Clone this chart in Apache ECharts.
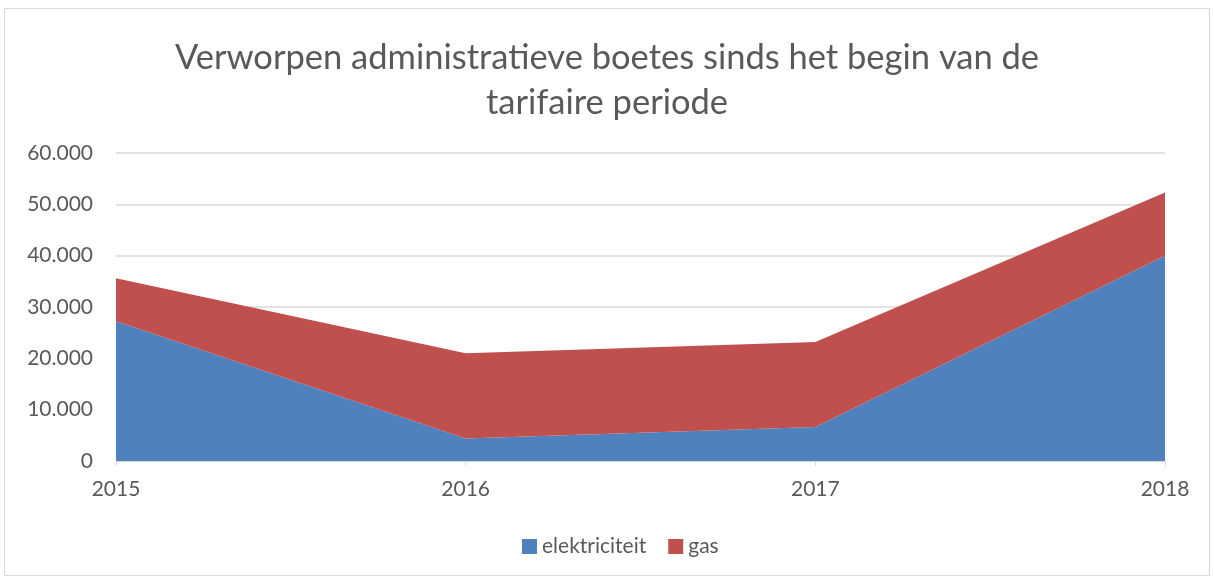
<!DOCTYPE html>
<html>
<head>
<meta charset="utf-8">
<script src="https://cdn.jsdelivr.net/npm/echarts@6/dist/echarts.min.js"></script>
<style>
html, body { margin: 0; padding: 0; background: #fff; }
#chart { width: 1214px; height: 579px; }
</style>
</head>
<body>
<div id="chart"></div>
<script>
var years = ['2015', '2016', '2017', '2018'];
var elektriciteit = [27200, 4400, 6600, 40000];
var gas = [8400, 16600, 16600, 12300];

var myChart = echarts.init(document.getElementById('chart'));
myChart.setOption({
  backgroundColor: '#fff',
  textStyle: { fontFamily: 'Lato' },
  graphic: [{
    type: 'rect',
    shape: { x: 4.5, y: 8.5, width: 1205, height: 567 },
    style: { fill: 'none', stroke: '#d9d9d9', lineWidth: 1 },
    silent: true
  }],
  title: {
    text: 'Verworpen administratieve boetes sinds het begin van de\ntarifaire periode',
    left: 'center',
    top: 30,
    textStyle: {
      fontFamily: 'Lato',
      fontSize: 34.5,
      fontWeight: 'normal',
      color: '#595959',
      lineHeight: 45
    }
  },
  legend: {
    data: ['elektriciteit', 'gas'],
    bottom: 17,
    left: 517,
    itemWidth: 15,
    itemHeight: 15,
    itemGap: 22,
    icon: 'rect',
    textStyle: { fontSize: 21, color: '#595959', fontFamily: 'Lato' }
  },
  grid: { left: 116, right: 49, top: 153, bottom: 118 },
  xAxis: {
    type: 'category',
    boundaryGap: false,
    data: years,
    axisLine: { lineStyle: { color: '#d9d9d9' } },
    axisTick: { show: true, length: 5, lineStyle: { color: '#d9d9d9' } },
    axisLabel: { color: '#595959', fontSize: 21, margin: 18, fontFamily: 'Lato' }
  },
  yAxis: {
    type: 'value',
    min: 0,
    max: 60000,
    interval: 10000,
    axisLine: { show: false },
    axisTick: { show: false },
    splitLine: { lineStyle: { color: '#d9d9d9', width: 1.5 } },
    axisLabel: {
      color: '#595959',
      fontSize: 21,
      margin: 23,
      fontFamily: 'Lato',
      formatter: function (v) {
        return v === 0 ? '0' : (v / 1000).toFixed(0) + '.000';
      }
    }
  },
  series: [
    {
      name: 'elektriciteit',
      type: 'line',
      stack: 'total',
      data: elektriciteit,
      symbol: 'none',
      itemStyle: { color: '#4f81bd' },
      lineStyle: { width: 0 },
      areaStyle: { color: '#4f81bd', opacity: 1 }
    },
    {
      name: 'gas',
      type: 'line',
      stack: 'total',
      data: gas,
      symbol: 'none',
      itemStyle: { color: '#c0504d' },
      lineStyle: { width: 0 },
      areaStyle: { color: '#c0504d', opacity: 1 }
    }
  ]
});
</script>
</body>
</html>
